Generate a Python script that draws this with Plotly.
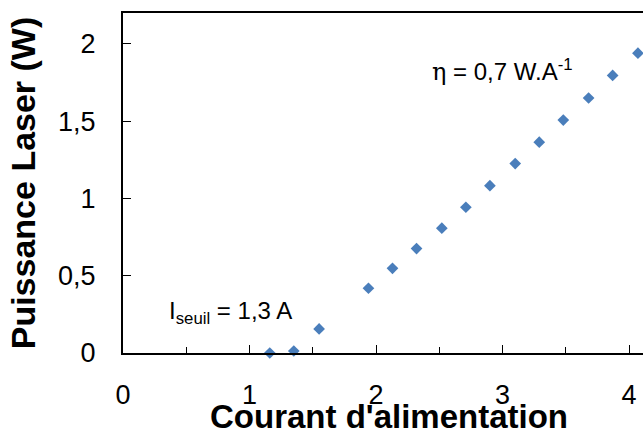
import plotly.graph_objects as go

# Data
courant = [1.16, 1.35, 1.55, 1.94, 2.13, 2.32, 2.52, 2.71, 2.90, 3.10, 3.29, 3.48, 3.68, 3.87, 4.07]
puissance = [0.00, 0.013, 0.156, 0.419, 0.548, 0.676, 0.808, 0.943, 1.083, 1.226, 1.364, 1.507, 1.650, 1.796, 1.940]

x_title = "Courant d'alimentation"
y_title = "Puissance Laser (W)"
label_eta = '<span style="font-family:DejaVu Serif">η</span> = 0,7 W.A<sup>-1</sup>'
label_seuil = "I<sub>seuil</sub> = 1,3 A"

FONT = "Liberation Sans, Arial, sans-serif"

fig = go.Figure()
fig.add_trace(go.Scatter(
    x=courant, y=puissance, mode="markers",
    marker=dict(symbol="diamond", size=9, color="#4A7EBB"),
    cliponaxis=False, showlegend=False,
))

fig.add_annotation(x=2.43, y=1.83, text=label_eta, showarrow=False,
                   xanchor="left", yanchor="middle",
                   font=dict(family=FONT, size=24, color="black"))
fig.add_annotation(x=0.35, y=0.26, text=label_seuil, showarrow=False,
                   xanchor="left", yanchor="middle",
                   font=dict(family=FONT, size=24, color="black"))
# x axis title (placed as in the reference, tight under the tick labels)
fig.add_annotation(x=0.512, xref="paper", y=-0.127, yref="paper",
                   text="<b>" + x_title + "</b>", showarrow=False,
                   xanchor="center", yanchor="top",
                   font=dict(family=FONT, size=33, color="black"))

fig.update_layout(
    width=643, height=441,
    margin=dict(l=123, r=0, t=13, b=88, autoexpand=False),
    paper_bgcolor="white", plot_bgcolor="white",
    separators=", ",
    font=dict(family=FONT, color="black"),
    xaxis=dict(
        range=[0, 4.11], showgrid=False, zeroline=False, automargin=False,
        showline=True, linecolor="black", linewidth=2, mirror=True,
        tick0=0, dtick=1, ticks="inside", ticklen=8, tickwidth=1, tickcolor="black",
        minor=dict(dtick=0.5, ticks="inside", ticklen=6, tickwidth=1, tickcolor="black"),
        tickfont=dict(family=FONT, size=27, color="black"),
        ticklabelstandoff=17,
    ),
    yaxis=dict(
        range=[0, 2.2], showgrid=False, zeroline=False, automargin=False,
        showline=True, linecolor="black", linewidth=2, mirror=False,
        tick0=0, dtick=0.5, ticks="inside", ticklen=8, tickwidth=1, tickcolor="black",
        tickfont=dict(family=FONT, size=27, color="black"),
        ticklabelstandoff=20,
        title=dict(text="<b>" + y_title + "</b>", font=dict(family=FONT, size=34, color="black"), standoff=12),
    ),
)

fig.write_html("out.html", config={"displayModeBar": False},
               post_script="document.body.style.margin='0px';")
